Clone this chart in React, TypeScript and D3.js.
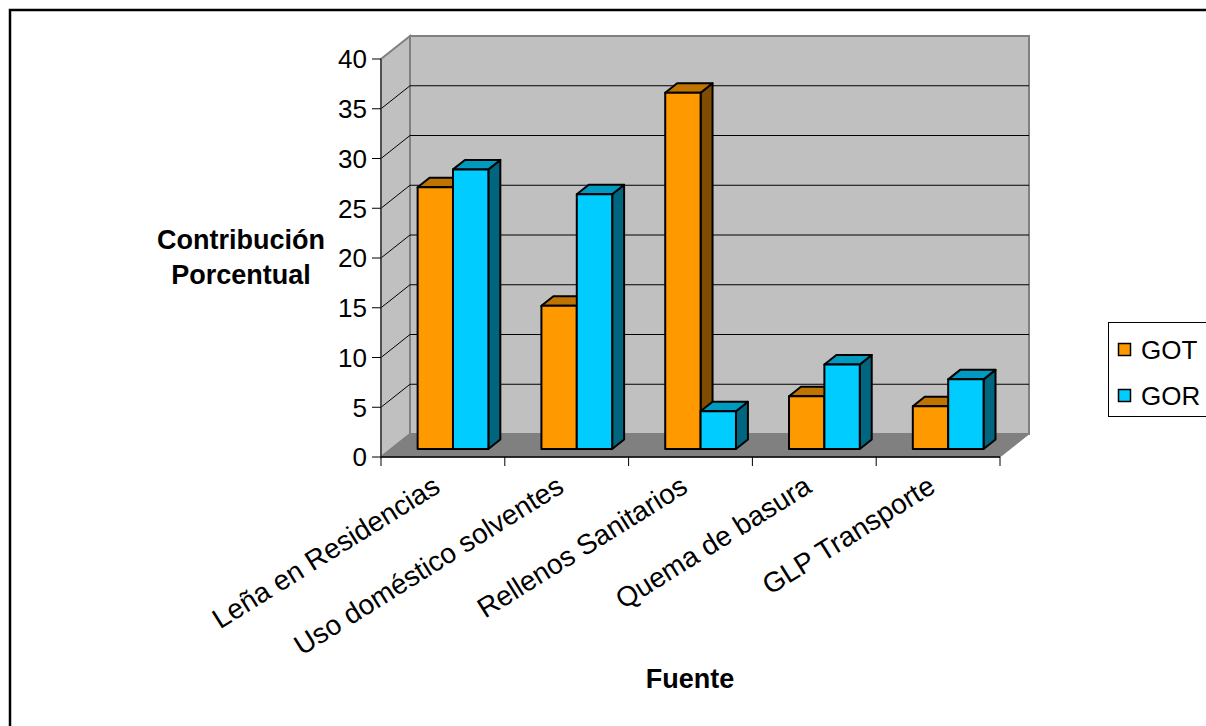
import React from "react";
import * as d3 from "d3";

const categories = [
  "Leña en Residencias",
  "Uso doméstico solventes",
  "Rellenos Sanitarios",
  "Quema de basura",
  "GLP Transporte",
];
const seriesNames = ["GOT", "GOR"];
const gotValues = [26.3, 14.4, 35.8, 5.3, 4.3];
const gorValues = [28.1, 25.6, 3.8, 8.5, 7.0];
const yTicks = [0, 5, 10, 15, 20, 25, 30, 35, 40];

const seriesColors = [
  { front: "#FF9900", top: "#BF7300", side: "#804C00" },
  { front: "#00CCFF", top: "#0099BF", side: "#006680" },
];

export default function App() {
  const W = 1206;
  const H = 726;
  const x0 = 381;
  const x1 = 1000;
  const yScale = d3.scaleLinear().domain([0, 40]).range([457, 59]);
  const xBand = d3.scaleBand<string>().domain(categories).range([x0, x1]).padding(0);
  const DX = 29;
  const DY = -23;
  const d1 = 0.348;
  const d2 = 0.76;
  const bw = xBand.bandwidth() / 3.5;
  const inner = d3.scaleBand<string>().domain(seriesNames).range([0, 2 * bw]);

  const P = (x: number, v: number, d: number): [number, number] => [x + DX * d, yScale(v) + DY * d];
  const poly = (pts: [number, number][]) => pts.map((p) => p.join(",")).join(" ");

  const yTop = yScale(40);
  const yBot = yScale(0);
  const font = "Arial, 'Liberation Sans', sans-serif";

  const bars: JSX.Element[] = [];
  categories.forEach((c, i) => {
    [gotValues[i], gorValues[i]].forEach((v, s) => {
      const col = seriesColors[s];
      const bx = (xBand(c) as number) + (xBand.bandwidth() - 2 * bw) / 2 + (inner(seriesNames[s]) as number);
      const bx2 = bx + bw;
      const front = [P(bx, 0, d1), P(bx, v, d1), P(bx2, v, d1), P(bx2, 0, d1)];
      const top = [P(bx, v, d1), P(bx, v, d2), P(bx2, v, d2), P(bx2, v, d1)];
      const side = [P(bx2, 0, d1), P(bx2, v, d1), P(bx2, v, d2), P(bx2, 0, d2)];
      bars.push(
        <g key={`${i}-${s}`} stroke="#000" strokeWidth={2} strokeLinejoin="round">
          <polygon points={poly(side)} fill={col.side} />
          <polygon points={poly(top)} fill={col.top} />
          <polygon points={poly(front)} fill={col.front} />
        </g>
      );
    });
  });

  return (
    <div style={{ position: "absolute", left: 0, top: 0, width: W, height: H, overflow: "hidden", background: "#fff" }}>
      <svg width={W} height={H} style={{ display: "block" }}>
        <rect x={0} y={0} width={W} height={H} fill="#fff" />
        <rect x={10} y={10} width={W + 20} height={H + 20} fill="none" stroke="#000" strokeWidth={2.5} />

        {/* back wall */}
        <polygon
          points={poly([P(x0, 0, 1), P(x0, 40, 1), P(x1, 40, 1), P(x1, 0, 1)])}
          fill="#C0C0C0"
          stroke="#808080"
          strokeWidth={2}
        />
        {/* side wall */}
        <polygon
          points={poly([P(x0, 0, 0), P(x0, 40, 0), P(x0, 40, 1), P(x0, 0, 1)])}
          fill="#C0C0C0"
          stroke="#808080"
          strokeWidth={2}
        />
        {/* floor */}
        <polygon
          points={poly([P(x0, 0, 0), P(x1, 0, 0), P(x1, 0, 1), P(x0, 0, 1)])}
          fill="#808080"
          stroke="#808080"
          strokeWidth={1}
        />
        {/* gridlines */}
        {yTicks
          .filter((t) => t > 0 && t < 40)
          .map((t) => (
            <g key={t} stroke="#000" strokeWidth={1}>
              <line x1={P(x0, t, 0)[0]} y1={P(x0, t, 0)[1]} x2={P(x0, t, 1)[0]} y2={P(x0, t, 1)[1]} />
              <line x1={P(x0, t, 1)[0]} y1={P(x0, t, 1)[1]} x2={P(x1, t, 1)[0]} y2={P(x1, t, 1)[1]} />
            </g>
          ))}

        {bars}

        {/* axes */}
        <line x1={x0} y1={yTop} x2={x0} y2={yBot} stroke="#404040" strokeWidth={1.5} />
        <line x1={x0} y1={yBot} x2={x1} y2={yBot} stroke="#000" strokeWidth={1.5} />
        {yTicks.map((t) => (
          <g key={t}>
            <line x1={x0 - 9} y1={yScale(t)} x2={x0} y2={yScale(t)} stroke="#000" strokeWidth={1} />
            <text
              x={x0 - 14}
              y={yScale(t)}
              dy="0.36em"
              textAnchor="end"
              fontFamily={font}
              fontSize={26}
              fill="#000"
            >
              {t}
            </text>
          </g>
        ))}
        {[...categories.map((c) => xBand(c) as number), x1].map((x, i) => (
          <line key={i} x1={x} y1={yBot} x2={x} y2={yBot + 9} stroke="#000" strokeWidth={1} />
        ))}
        {categories.map((c) => {
          const cx = (xBand(c) as number) + xBand.bandwidth() / 2 - 1;
          const cy = 491;
          return (
            <text
              key={c}
              x={cx}
              y={cy}
              textAnchor="end"
              transform={`rotate(-32, ${cx}, ${cy})`}
              fontFamily={font}
              fontSize={28}
              fill="#000"
            >
              {c}
            </text>
          );
        })}

        {/* axis titles */}
        <text x={241} y={249} textAnchor="middle" fontFamily={font} fontWeight="bold" fontSize={27}>
          Contribución
        </text>
        <text x={241} y={284} textAnchor="middle" fontFamily={font} fontWeight="bold" fontSize={27}>
          Porcentual
        </text>
        <text x={690} y={688} textAnchor="middle" fontFamily={font} fontWeight="bold" fontSize={27}>
          Fuente
        </text>

        {/* legend */}
        <rect x={1108.5} y={322.5} width={120} height={94} fill="#fff" stroke="#000" strokeWidth={1} />
        {seriesNames.map((n, i) => (
          <g key={n}>
            <rect x={1118.5} y={343.5 + i * 46} width={12} height={12} fill={seriesColors[i].front} stroke="#000" strokeWidth={1.5} />
            <text x={1141} y={359 + i * 46} fontFamily={font} fontSize={26} fill="#000">
              {n}
            </text>
          </g>
        ))}
      </svg>
    </div>
  );
}
